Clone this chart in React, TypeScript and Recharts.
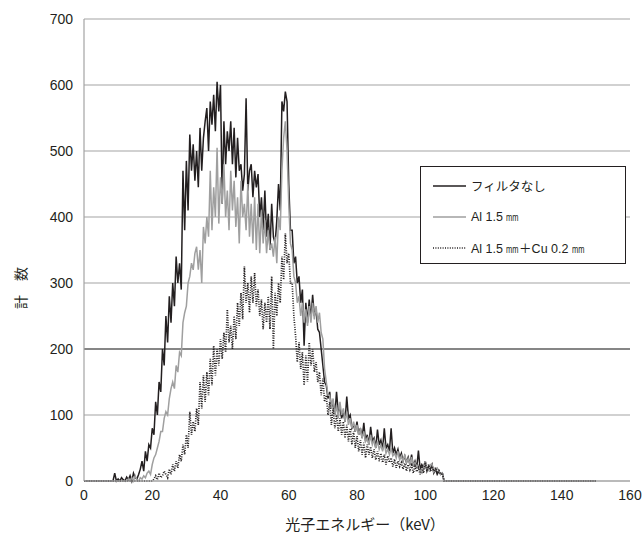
import React from 'react';
import { LineChart, Line, XAxis, YAxis, CartesianGrid, ReferenceLine } from 'recharts';

// energies start at 8 keV, step 0.5 keV (values below 8 keV and above 106 keV are zero)
const START_KEV = 8;
const STEP_KEV = 0.5;
const END_KEV = 150;

// フィルタなし
const noFilter = [
  0, 0, 12, 0, 3, 0, 5, 2, 0, 6, 2, 8, 0, 12, 5, 3,
  10, 18, 30, 15, 45, 30, 55, 50, 80, 70, 120, 100, 150, 135, 200, 175,
  250, 210, 280, 240, 300, 265, 340, 300, 330, 290, 470, 380, 485, 410, 525, 470,
  510, 455, 500, 445, 535, 470, 520, 545, 565, 500, 575, 540, 585, 530, 605, 560,
  600, 420, 545, 480, 530, 500, 545, 480, 535, 460, 520, 470, 480, 440, 465, 580,
  440, 470, 480, 430, 470, 445, 465, 400, 430, 380, 440, 370, 405, 350, 420, 370,
  360, 395, 450, 410, 575, 560, 590, 575, 450, 380, 380, 330, 340, 300, 310, 270,
  290, 205, 270, 240, 275, 245, 282, 250, 260, 230, 225, 200, 175, 150, 145, 125,
  135, 110, 120, 100, 135, 105, 110, 95, 105, 90, 128, 95, 100, 80, 85, 75,
  90, 70, 80, 65, 88, 60, 70, 55, 82, 60, 65, 50, 78, 55, 62, 48,
  80, 50, 55, 45, 80, 42, 50, 40, 48, 35, 42, 30, 38, 28, 36, 25,
  40, 22, 30, 20, 46, 18, 25, 20, 30, 15, 22, 18, 25, 12, 18, 10,
  15, 10, 12, 0, 0,
];

// Al 1.5 ㎜
const al15 = [
  0, 0, 0, 0, 0, 0, 0, 0, 0, 0, 3, 0, 5, 0, 8, 2,
  0, 5, 3, 8, 5, 12, 15, 10, 25, 35, 40, 50, 60, 75, 75, 95,
  105, 100, 125, 140, 150, 140, 175, 165, 195, 190, 240, 255, 265, 300, 310, 330,
  320, 345, 355, 320, 350, 300, 385, 360, 400, 370, 470, 380, 445, 400, 505, 390,
  460, 420, 480, 400, 440, 380, 470, 410, 455, 385, 430, 360, 455, 400, 420, 380,
  450, 370, 420, 360, 430, 350, 420, 345, 410, 360, 395, 345, 380, 350, 360, 340,
  370, 330, 400, 380, 470, 520, 545, 500, 420, 360, 350, 310, 300, 270, 280, 250,
  270, 240, 260, 235, 265, 240, 270, 245, 265, 240, 255, 225, 215, 170, 150, 130,
  130, 110, 125, 100, 115, 95, 120, 100, 110, 90, 105, 85, 95, 80, 90, 75,
  85, 70, 78, 65, 75, 60, 65, 55, 70, 55, 62, 50, 60, 48, 55, 45,
  58, 42, 48, 40, 50, 38, 42, 35, 45, 32, 38, 30, 40, 28, 34, 26,
  36, 24, 28, 22, 24, 15, 12, 20, 30, 18, 16, 25, 25, 14, 18, 20,
  15, 10, 12, 0, 0,
];

// Al 1.5 ㎜＋Cu 0.2 ㎜
const alCu = [
  0, 0, 0, 0, 0, 0, 0, 0, 0, 0, 0, 0, 0, 0, 0, 0,
  0, 0, 0, 0, 0, 0, 0, 0, 0, 3, 8, 2, 12, 5, 8, 15,
  10, 5, 18, 10, 25, 15, 30, 20, 40, 30, 55, 40, 70, 50, 105, 70,
  90, 75, 110, 85, 150, 110, 160, 120, 165, 130, 185, 145, 205, 160, 200, 175,
  215, 185, 225, 195, 260, 210, 235, 200, 250, 215, 270, 235, 285, 245, 325, 270,
  300, 255, 310, 270, 315, 265, 290, 250, 275, 230, 270, 240, 280, 230, 310, 200,
  285, 250, 300, 270, 340, 305, 375, 330, 345, 300, 300, 250, 220, 180, 210, 170,
  195, 145, 190, 150, 210, 175, 200, 165, 180, 150, 165, 130, 155, 120, 130, 100,
  120, 85, 110, 80, 100, 75, 95, 70, 90, 65, 85, 60, 80, 55, 75, 50,
  68, 45, 62, 40, 58, 35, 55, 40, 52, 35, 48, 32, 45, 30, 42, 28,
  40, 25, 38, 28, 35, 22, 33, 20, 30, 22, 28, 18, 27, 15, 25, 17,
  24, 12, 22, 14, 20, 10, 22, 12, 28, 15, 25, 14, 22, 15, 20, 12,
  16, 10, 12, 0, 0,
];

const xTicks = [0, 20, 40, 60, 80, 100, 120, 140, 160];
const yTicks = [0, 100, 200, 300, 400, 500, 600, 700];
// legend labels, split so the millimetre unit can be drawn narrow
const seriesLabels = [
  ['フィルタなし'],
  ['Al 1.5 ', 'mm'],
  ['Al 1.5 ', 'mm', '＋Cu 0.2 ', 'mm'],
];
const seriesNames = ['フィルタなし', 'Al 1.5 mm', 'Al 1.5 mm＋Cu 0.2 mm'];
const xTitle = '光子エネルギー（keV）';
const yTitle = '計　数';

const data = [
  { e: 0, a: 0, b: 0, c: 0 },
  ...noFilter.map((v, i) => ({ e: START_KEV + i * STEP_KEV, a: v, b: al15[i], c: alCu[i] })),
  { e: END_KEV, a: 0, b: 0, c: 0 },
];

const INK = '#231f20';
const GRAY = '#a3a3a3';
const LINEGRAY = '#9f9f9f';
const FONT = '"Liberation Sans", Arial, sans-serif';
const JP = '"Noto Sans CJK JP", "Noto Sans", sans-serif';
const MIXED = '"Liberation Sans", "Noto Sans CJK JP", sans-serif';

const seriesStyles = [
  { key: 'a', stroke: INK, dash: undefined as string | undefined, width: 1.5 },
  { key: 'b', stroke: LINEGRAY, dash: undefined as string | undefined, width: 1.5 },
  { key: 'c', stroke: INK, dash: '1 1.4', width: 1.7 },
];

const LegendBox = () => (
  <div
    style={{
      position: 'absolute',
      left: 420,
      top: 166,
      boxSizing: 'border-box',
      width: 206,
      height: 98,
      border: `1px solid ${INK}`,
      background: '#fff',
      paddingTop: 3,
    }}
  >
    {seriesLabels.map((parts, i) => (
      <div key={i} style={{ height: 31, display: 'flex', alignItems: 'center' }}>
        <svg width={50} height={10} style={{ display: 'block' }}>
          <line
            x1={12}
            x2={45}
            y1={5}
            y2={5}
            stroke={seriesStyles[i].stroke}
            strokeWidth={seriesStyles[i].width}
            strokeDasharray={seriesStyles[i].dash}
          />
        </svg>
        <span style={{ fontFamily: MIXED, fontSize: 12.5, color: INK, whiteSpace: 'nowrap' }}>
          {parts.map((p, j) =>
            p === 'mm' ? (
              <span
                key={j}
                style={{ display: 'inline-block', fontSize: 10, transform: 'scaleX(0.75)', margin: '0 -2px', verticalAlign: 'baseline' }}
              >
                {p}
              </span>
            ) : (
              <span key={j}>{p}</span>
            ),
          )}
        </span>
      </div>
    ))}
  </div>
);

export default function App() {
  return (
    <div style={{ position: 'absolute', left: 0, top: 0, width: 644, height: 537, background: '#fff' }}>
      <LineChart width={644} height={537} data={data} margin={{ top: 19, right: 14, left: 0, bottom: 0 }}>
        <CartesianGrid vertical={false} stroke={GRAY} strokeWidth={1.2} />
        <ReferenceLine y={200} stroke="#3c3c3c" strokeWidth={1.2} />
        <XAxis
          dataKey="e"
          type="number"
          domain={[0, 160]}
          ticks={xTicks}
          height={56}
          tickSize={0}
          tickMargin={9}
          axisLine={{ stroke: GRAY, strokeWidth: 1.2 }}
          tick={{ fill: INK, fontSize: 14, fontFamily: FONT }}
          label={{
            content: () => (
              <text x={365} y={530} textAnchor="middle" fill={INK} fontSize={15} fontFamily={JP}>
                {xTitle}
              </text>
            ),
          }}
        />
        <YAxis
          type="number"
          domain={[0, 700]}
          ticks={yTicks}
          width={84}
          tickSize={0}
          tickMargin={11}
          axisLine={{ stroke: GRAY, strokeWidth: 1.2 }}
          tick={{ fill: INK, fontSize: 14, fontFamily: FONT }}
          label={{
            content: () => (
              <text
                x={20}
                y={288}
                textAnchor="middle"
                dominantBaseline="central"
                transform="rotate(-90 20 288)"
                fill={INK}
                fontSize={14}
                fontFamily={JP}
              >
                {yTitle}
              </text>
            ),
          }}
        />
        {seriesStyles.map((s, i) => (
          <Line
            key={s.key}
            dataKey={s.key}
            name={seriesNames[i]}
            type="linear"
            stroke={s.stroke}
            strokeWidth={s.width}
            strokeDasharray={s.dash}
            dot={false}
            activeDot={false}
            isAnimationActive={false}
          />
        ))}
      </LineChart>
      <LegendBox />
    </div>
  );
}
